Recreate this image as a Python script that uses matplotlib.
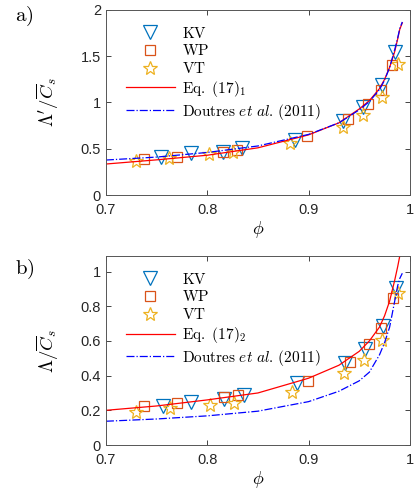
import numpy as np
import matplotlib
matplotlib.use("Agg")
import matplotlib.pyplot as plt

# ---------------------------------------------------------------------------
# DATA
# ---------------------------------------------------------------------------
# panel a) : Lambda' / C_s
kv_phi_a = [0.754, 0.784, 0.816, 0.834, 0.887, 0.934, 0.954, 0.972, 0.985]
kv_val_a = [0.414, 0.450, 0.468, 0.505, 0.595, 0.800, 0.948, 1.190, 1.550]
wp_phi_a = [0.738, 0.770, 0.816, 0.829, 0.898, 0.939, 0.959, 0.971, 0.982]
wp_val_a = [0.386, 0.414, 0.468, 0.486, 0.638, 0.818, 0.980, 1.135, 1.405]
vt_phi_a = [0.730, 0.762, 0.802, 0.825, 0.882, 0.934, 0.954, 0.972, 0.988]
vt_val_a = [0.368, 0.404, 0.440, 0.468, 0.566, 0.739, 0.865, 1.056, 1.420]

# panel b) : Lambda / C_s
kv_phi_b = [0.756, 0.784, 0.817, 0.836, 0.889, 0.936, 0.956, 0.973, 0.986]
kv_val_b = [0.225, 0.250, 0.265, 0.288, 0.356, 0.471, 0.552, 0.687, 0.904]
wp_phi_b = [0.738, 0.770, 0.817, 0.830, 0.899, 0.941, 0.960, 0.971, 0.983]
wp_val_b = [0.225, 0.240, 0.279, 0.288, 0.371, 0.481, 0.581, 0.673, 0.846]
vt_phi_b = [0.730, 0.763, 0.803, 0.826, 0.884, 0.935, 0.955, 0.972, 0.988]
vt_val_b = [0.192, 0.212, 0.231, 0.244, 0.308, 0.413, 0.490, 0.606, 0.875]

# model curves
curve_phi = [0.70, 0.75, 0.80, 0.85, 0.90, 0.93, 0.95, 0.96, 0.97,
             0.975, 0.98, 0.985, 0.988, 0.99, 0.9925]
eq_a      = [0.335, 0.380, 0.430, 0.510, 0.650, 0.780, 0.930, 1.020, 1.150,
             1.250, 1.380, 1.550, 1.690, 1.790, 1.860]
doutres_a = [0.378, 0.410, 0.460, 0.530, 0.655, 0.780, 0.920, 1.010, 1.140,
             1.240, 1.380, 1.570, 1.700, 1.800, 1.870]
eq_b      = [0.200, 0.225, 0.260, 0.300, 0.385, 0.460, 0.540, 0.600, 0.680,
             0.745, 0.830, 0.950, 1.030, 1.090, 1.140]
doutres_b = [0.137, 0.150, 0.168, 0.195, 0.250, 0.310, 0.370, 0.420, 0.520,
             0.590, 0.680, 0.830, 0.920, 0.960, 0.990]

x_ticks = [0.7, 0.8, 0.9, 1.0]
x_tick_labels = ["0.7", "0.8", "0.9", "1"]
y_ticks_a = [0, 0.5, 1, 1.5, 2]
y_tick_labels_a = ["0", "0.5", "1", "1.5", "2"]
y_ticks_b = [0, 0.2, 0.4, 0.6, 0.8, 1.0]
y_tick_labels_b = ["0", "0.2", "0.4", "0.6", "0.8", "1"]

# ---------------------------------------------------------------------------
# STYLE
# ---------------------------------------------------------------------------
plt.rcParams["mathtext.fontset"] = "cm"
plt.rcParams["font.family"] = ["Liberation Sans", "DejaVu Sans"]

C_KV = "#0072BD"
C_WP = "#D95319"
C_VT = "#EDB120"
AX_GRAY = "#262626"

fig = plt.figure(figsize=(4.17, 4.95), dpi=100)
ax_a = fig.add_axes([0.254, 0.606, 0.729, 0.374])
ax_b = fig.add_axes([0.254, 0.101, 0.729, 0.382])


def draw_panel(ax, kv, wp, vt, eq, dou, eq_label, ylabel, yticks, ylabels, ylim):
    ax.plot(kv[0], kv[1], "v", ms=9.5, mfc="none", mec=C_KV, mew=0.9, label=r"$\mathrm{KV}$")
    ax.plot(wp[0], wp[1], "s", ms=7.5, mfc="none", mec=C_WP, mew=0.9, label=r"$\mathrm{WP}$")
    ax.plot(vt[0], vt[1], "*", ms=10, mfc="none", mec=C_VT, mew=0.9, label=r"$\mathrm{VT}$")
    ax.plot(curve_phi, eq, "-", color="red", lw=0.9, label=eq_label)
    ax.plot(curve_phi, dou, "-.", color="blue", lw=0.9,
            label=r"$\mathrm{Doutres}\ \mathit{et\ al.}\,\mathrm{(2011)}$")

    ax.set_xlim(0.7, 1.0)
    ax.set_ylim(*ylim)
    ax.set_xticks(x_ticks)
    ax.set_xticklabels(x_tick_labels)
    ax.set_yticks(yticks)
    ax.set_yticklabels(ylabels)
    ax.tick_params(direction="in", top=True, right=True, labelsize=10.5,
                   colors=AX_GRAY, length=3.5, width=0.6)
    ax.tick_params(axis="x", pad=6)
    for s in ax.spines.values():
        s.set_color("#555555")
        s.set_linewidth(0.7)
    ax.set_xlabel(r"$\phi$", fontsize=13, labelpad=1)
    ax.set_ylabel(ylabel, fontsize=13.5, labelpad=14)

    leg = ax.legend(loc="upper left", frameon=False, fontsize=11,
                    bbox_to_anchor=(0.035, 0.965), handlelength=3.2,
                    handletextpad=0.5, labelspacing=0.18, borderaxespad=0.2)
    return leg


draw_panel(ax_a, (kv_phi_a, kv_val_a), (wp_phi_a, wp_val_a), (vt_phi_a, vt_val_a),
           eq_a, doutres_a, r"$\mathrm{Eq.\ (17)}_1$",
           r"$\Lambda^{\prime}/\overline{C}_s$", y_ticks_a, y_tick_labels_a, (0, 2))
draw_panel(ax_b, (kv_phi_b, kv_val_b), (wp_phi_b, wp_val_b), (vt_phi_b, vt_val_b),
           eq_b, doutres_b, r"$\mathrm{Eq.\ (17)}_2$",
           r"$\Lambda/\overline{C}_s$", y_ticks_b, y_tick_labels_b, (0, 1.09))

fig.text(0.036, 0.966, r"$\mathrm{a)}$", fontsize=15, va="center")
fig.text(0.036, 0.456, r"$\mathrm{b)}$", fontsize=15, va="center")

fig.savefig("out.png", dpi=100)
